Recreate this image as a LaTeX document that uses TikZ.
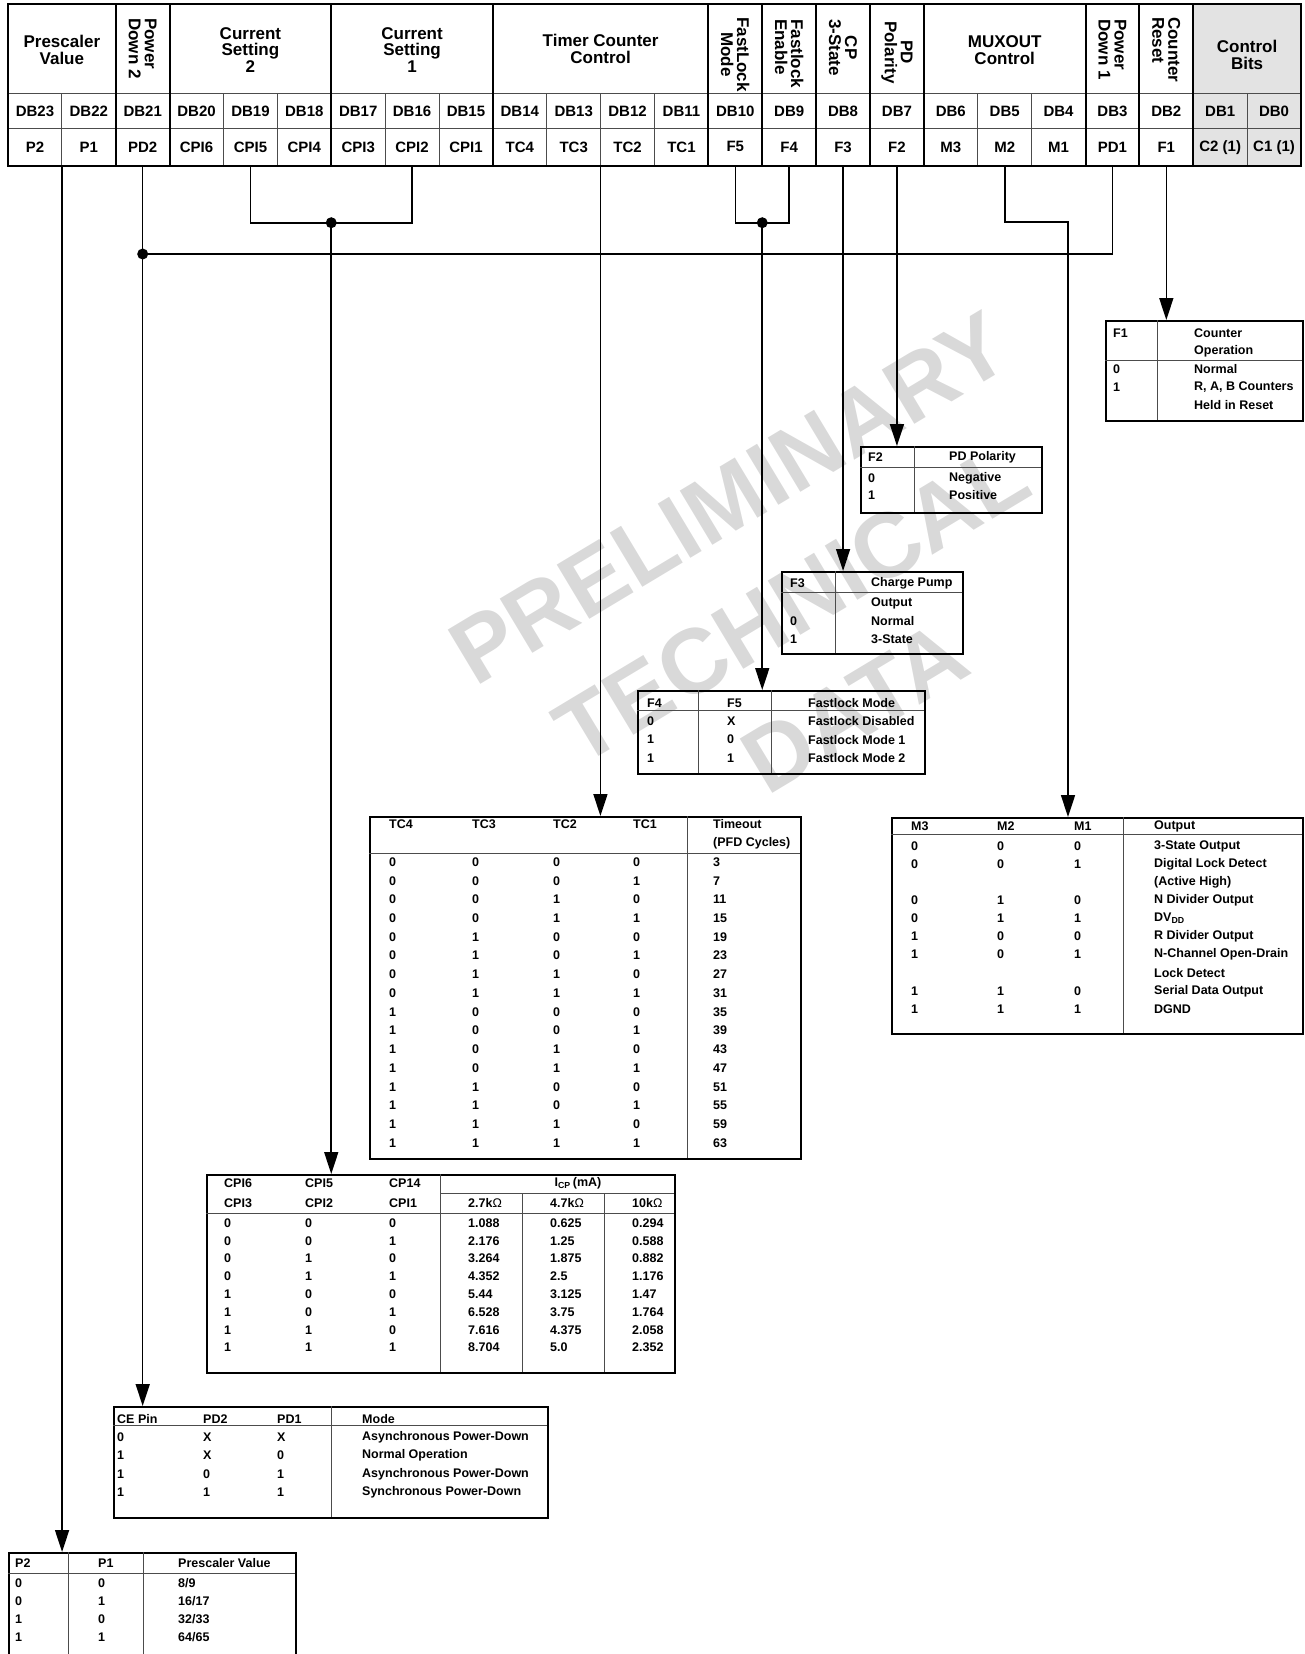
\documentclass[tikz,border=0pt]{standalone}
\usepackage{fontspec}
\setmainfont{Liberation Sans}
\usetikzlibrary{arrows.meta,calc}

\definecolor{wmgray}{gray}{0.85}
\definecolor{ctrlgray}{gray}{0.89}

\begin{document}
\begin{tikzpicture}[x=1pt,y=-1pt,
    regframe/.style={line width=2.6pt},
    groupline/.style={line width=2pt},
    cellline/.style={line width=1pt, black!70},
    tabframe/.style={draw, line width=2.2pt, inner sep=0pt, anchor=north west},
    tabline/.style={line width=0.9pt, black!70},
    tabtext/.style={anchor=west, inner sep=0pt, font=\fontsize{12.5}{14}\bfseries},
    bitcell/.style={minimum width=\cw pt, minimum height=37pt, inner sep=0pt, font=\fontsize{15}{15}\bfseries},
    hdr/.style={align=center, inner sep=0pt, font=\fontsize{17}{16.5}\bfseries},
    vhdr/.style={rotate=-90, anchor=west, align=left, inner sep=0pt, font=\fontsize{17}{16}\bfseries},
    wire/.style={line width=1.6pt},
    feed/.style={wire, -{Triangle[length=22pt,width=14pt]}},
    joint/.style={circle, fill, inner sep=0pt, minimum size=11pt}
]

% Column width and left edge of the register
\def\cw{53.875}
\def\xl{8}

\useasboundingbox (0,0) rectangle (1304,1654);

% --- Watermark ---
\node[rotate=31, text=wmgray, align=center, inner sep=0pt,
      font=\fontsize{92}{122}\bfseries] (wmark) at (792,603)
      {PRELIMINARY\\TECHNICAL\\DATA};

% --- Register map ---
\fill[ctrlgray] ({\xl+22*\cw},4) rectangle ({\xl+24*\cw},166);
\draw[cellline] (\xl,93) -- ({\xl+24*\cw},93);
\draw[cellline] (\xl,128) -- ({\xl+24*\cw},128);
\foreach \k in {1,...,23}
    \draw[cellline] ({\xl+\k*\cw},93) -- ({\xl+\k*\cw},166);
\foreach \k in {2,3,6,9,13,14,15,16,17,20,21,22}
    \draw[groupline] ({\xl+\k*\cw},4) -- ({\xl+\k*\cw},166);
\draw[regframe] (\xl,4) rectangle ({\xl+24*\cw},166);

% Group headers
\node[hdr] (hpre) at ({\xl+1*\cw},50) {Prescaler\\Value};
\node[vhdr] (hpd2) at ({\xl+2.5*\cw},18) {Power\\Down 2};
\node[hdr] (hcs2) at ({\xl+4.5*\cw},50) {Current\\Setting\\2};
\node[hdr] (hcs1) at ({\xl+7.5*\cw},50) {Current\\Setting\\1};
\node[hdr] (htc) at ({\xl+11*\cw},49) {Timer Counter\\Control};
\node[vhdr, align=center] (hflm) at ({\xl+13.5*\cw},17) {FastLock\\Mode};
\node[vhdr] (hfle) at ({\xl+14.5*\cw},19) {Fastlock\\Enable};
\node[vhdr, align=center] (hcp) at ({\xl+15.5*\cw},19) {CP\\3-State};
\node[vhdr, align=center] (hpol) at ({\xl+16.5*\cw},21) {PD\\Polarity};
\node[hdr] (hmux) at ({\xl+18.5*\cw},50) {MUXOUT\\Control};
\node[vhdr] (hpd1) at ({\xl+20.5*\cw},19) {Power\\Down 1};
\node[vhdr] (hcr) at ({\xl+21.5*\cw},17) {Counter\\Reset};
\node[hdr] (hcb) at ({\xl+23*\cw},55) {Control\\Bits};

% DB row
\foreach \k in {0,...,23}{
    \pgfmathtruncatemacro\n{23-\k}
    \node[bitcell] (db\n) at ({\xl+(\k+0.5)*\cw},111.5) {DB\n};
}
% Bit name row
\foreach \t [count=\k from 0] in {P2,P1,PD2,CPI6,CPI5,CPI4,CPI3,CPI2,CPI1,TC4,TC3,TC2,TC1,
        \raisebox{3pt}{F5},F4,F3,F2,M3,M2,\raisebox{-2pt}{M1},PD1,F1,C2 (1),C1 (1)}{
    \pgfmathtruncatemacro\n{23-\k}
    \node[bitcell] (bit\n) at ({\xl+(\k+0.5)*\cw},147.5) {\t};
}

% --- F1 table ---
\node[tabframe, minimum width=197pt, minimum height=100pt] (f1tab) at (1105,320) {};
\draw[tabline] (1157,320) -- (1157,420);
\draw[tabline] (1105,360) -- (1302,360);
\node[tabtext] (f1h1) at (1113,333) {F1};
\node[tabtext] (f1h2) at (1194,333) {Counter};
\node[tabtext] (f1h3) at (1194,351) {Operation};
\node[tabtext] (f1a1) at (1113,369) {0};
\node[tabtext] (f1b1) at (1194,369) {Normal};
\node[tabtext] (f1a2) at (1113,387) {1};
\node[tabtext] (f1b2) at (1194,387) {R, A, B Counters};
\node[tabtext] (f1b3) at (1194,405) {Held in Reset};

% --- F2 table ---
\node[tabframe, minimum width=181pt, minimum height=66pt] (f2tab) at (860,446) {};
\draw[tabline] (914,446) -- (914,512);
\draw[tabline] (860,467) -- (1041,467);
\node[tabtext] (f2h1) at (868,457) {F2};
\node[tabtext] (f2h2) at (949,457) {PD Polarity};
\node[tabtext] (f2a1) at (868,478) {0};
\node[tabtext] (f2b1) at (949,478) {Negative};
\node[tabtext] (f2a2) at (868,495) {1};
\node[tabtext] (f2b2) at (949,495) {Positive};

% --- F3 table ---
\node[tabframe, minimum width=181pt, minimum height=82pt] (f3tab) at (781,571) {};
\draw[tabline] (835,571) -- (835,653);
\draw[tabline] (781,592) -- (962,592);
\node[tabtext] (f3h1) at (790,583) {F3};
\node[tabtext] (f3h2) at (871,583) {Charge Pump};
\node[tabtext] (f3h3) at (871,603) {Output};
\node[tabtext] (f3a1) at (790,621) {0};
\node[tabtext] (f3b1) at (871,621) {Normal};
\node[tabtext] (f3a2) at (790,639) {1};
\node[tabtext] (f3b2) at (871,639) {3-State};

% --- Fastlock table ---
\node[tabframe, minimum width=287pt, minimum height=83pt] (fltab) at (637,690) {};
\draw[tabline] (698,690) -- (698,773);
\draw[tabline] (771,690) -- (771,773);
\draw[tabline] (637,710) -- (924,710);
\foreach \a/\b/\c [count=\r from 0] in {F4/F5/Fastlock Mode, 0/X/Fastlock Disabled,
        1/0/Fastlock Mode 1, 1/1/Fastlock Mode 2}{
    \node[tabtext] (fl\r a) at (647,{703+18.3*\r}) {\a};
    \node[tabtext] (fl\r b) at (727,{703+18.3*\r}) {\b};
    \node[tabtext] (fl\r c) at (808,{703+18.3*\r}) {\c};
}

% --- Timer counter table ---
\node[tabframe, minimum width=431pt, minimum height=342pt] (tctab) at (369,816) {};
\draw[tabline] (687,816) -- (687,1158);
\draw[tabline] (369,853) -- (800,853);
\node[tabtext] (tch1) at (389,824) {TC4};
\node[tabtext] (tch2) at (472,824) {TC3};
\node[tabtext] (tch3) at (553,824) {TC2};
\node[tabtext] (tch4) at (633,824) {TC1};
\node[tabtext] (tch5) at (713,824) {Timeout};
\node[tabtext] (tch6) at (713,843) {(PFD Cycles)};
\foreach \a/\b/\c/\d/\t [count=\r from 0] in {0/0/0/0/3, 0/0/0/1/7, 0/0/1/0/11, 0/0/1/1/15,
        0/1/0/0/19, 0/1/0/1/23, 0/1/1/0/27, 0/1/1/1/31, 1/0/0/0/35, 1/0/0/1/39,
        1/0/1/0/43, 1/0/1/1/47, 1/1/0/0/51, 1/1/0/1/55, 1/1/1/0/59, 1/1/1/1/63}{
    \node[tabtext] (tc\r a) at (389,{862+18.73*\r}) {\a};
    \node[tabtext] (tc\r b) at (472,{862+18.73*\r}) {\b};
    \node[tabtext] (tc\r c) at (553,{862+18.73*\r}) {\c};
    \node[tabtext] (tc\r d) at (633,{862+18.73*\r}) {\d};
    \node[tabtext] (tc\r t) at (713,{862+18.73*\r}) {\t};
}

% --- MUXOUT table ---
\node[tabframe, minimum width=411pt, minimum height=216pt] (mtab) at (891,817) {};
\draw[tabline] (1123,817) -- (1123,1033);
\draw[tabline] (891,834) -- (1302,834);
\node[tabtext] (mh1) at (911,826) {M3};
\node[tabtext] (mh2) at (997,826) {M2};
\node[tabtext] (mh3) at (1074,826) {M1};
\node[tabtext] (mh4) at (1154,826) {Output};
\foreach \a/\b/\c/\t [count=\r from 0] in {0/0/0/3-State Output, 0/0/1/Digital Lock Detect,
        ///(Active High), 0/1/0/N Divider Output, 0/1/1/DV\textsubscript{DD},
        1/0/0/R Divider Output, 1/0/1/N-Channel Open-Drain, ///Lock Detect,
        1/1/0/Serial Data Output, 1/1/1/DGND}{
    \node[tabtext] (m\r a) at (911,{846+18.1*\r}) {\a};
    \node[tabtext] (m\r b) at (997,{846+18.1*\r}) {\b};
    \node[tabtext] (m\r c) at (1074,{846+18.1*\r}) {\c};
    \node[tabtext] (m\r t) at (1154,{846+18.1*\r}) {\t};
}

% --- Charge pump current table ---
\node[tabframe, minimum width=468pt, minimum height=198pt] (cptab) at (206,1174) {};
\draw[tabline] (440,1174) -- (440,1372);
\draw[tabline] (522,1193) -- (522,1372);
\draw[tabline] (604,1193) -- (604,1372);
\draw[tabline] (440,1193) -- (674,1193);
\draw[tabline] (206,1213) -- (674,1213);
\node[tabtext] (cph1) at (224,1183) {CPI6};
\node[tabtext] (cph2) at (305,1183) {CPI5};
\node[tabtext] (cph3) at (389,1183) {CP14};
\node[tabtext, anchor=center] (cph4) at (578,1183) {I\textsubscript{CP}\,(mA)};
\node[tabtext] (cph5) at (224,1203) {CPI3};
\node[tabtext] (cph6) at (305,1203) {CPI2};
\node[tabtext] (cph7) at (389,1203) {CPI1};
\node[tabtext] (cph8) at (468,1203) {2.7k{\mdseries Ω}};
\node[tabtext] (cph9) at (550,1203) {4.7k{\mdseries Ω}};
\node[tabtext] (cph10) at (632,1203) {10k{\mdseries Ω}};
\foreach \a/\b/\c/\u/\v/\w [count=\r from 0] in {0/0/0/1.088/0.625/0.294, 0/0/1/2.176/1.25/0.588,
        0/1/0/3.264/1.875/0.882, 0/1/1/4.352/2.5/1.176, 1/0/0/5.44/3.125/1.47,
        1/0/1/6.528/3.75/1.764, 1/1/0/7.616/4.375/2.058, 1/1/1/8.704/5.0/2.352}{
    \node[tabtext] (cp\r a) at (224,{1223+17.8*\r}) {\a};
    \node[tabtext] (cp\r b) at (305,{1223+17.8*\r}) {\b};
    \node[tabtext] (cp\r c) at (389,{1223+17.8*\r}) {\c};
    \node[tabtext] (cp\r u) at (468,{1223+17.8*\r}) {\u};
    \node[tabtext] (cp\r v) at (550,{1223+17.8*\r}) {\v};
    \node[tabtext] (cp\r w) at (632,{1223+17.8*\r}) {\w};
}

% --- Power down table ---
\node[tabframe, minimum width=434pt, minimum height=111pt] (pdtab) at (113,1406) {};
\draw[tabline] (331,1406) -- (331,1517);
\draw[tabline] (113,1425) -- (547,1425);
\foreach \a/\b/\c/\t [count=\r from 0] in {CE Pin/PD2/PD1/Mode, 0/X/X/Asynchronous Power-Down,
        1/X/0/Normal Operation, 1/0/1/Asynchronous Power-Down, 1/1/1/Synchronous Power-Down}{
    \node[tabtext] (pd\r a) at (117,{1419+18.3*\r}) {\a};
    \node[tabtext] (pd\r b) at (203,{1419+18.3*\r}) {\b};
    \node[tabtext] (pd\r c) at (277,{1419+18.3*\r}) {\c};
    \node[tabtext] (pd\r t) at (362,{1419+18.3*\r}) {\t};
}

% --- Prescaler table (runs off the page) ---
\node[tabframe, minimum width=287pt, minimum height=130pt] (ptab) at (8,1552) {};
\draw[tabline] (68,1552) -- (68,1682);
\draw[tabline] (143,1552) -- (143,1682);
\draw[tabline] (8,1573) -- (295,1573);
\node[tabtext] (ph1) at (15,1563) {P2};
\node[tabtext] (ph2) at (98,1563) {P1};
\node[tabtext] (ph3) at (178,1563) {Prescaler Value};
\node[tabtext] (pa1) at (15,1583) {0};
\node[tabtext] (pb1) at (98,1583) {0};
\node[tabtext] (pc1) at (178,1583) {8/9};
\node[tabtext] (pa2) at (15,1601) {0};
\node[tabtext] (pb2) at (98,1601) {1};
\node[tabtext] (pc2) at (178,1601) {16/17};
\node[tabtext] (pa3) at (15,1619) {1};
\node[tabtext] (pb3) at (98,1619) {0};
\node[tabtext] (pc3) at (178,1619) {32/33};
\node[tabtext] (pa4) at (15,1637) {1};
\node[tabtext] (pb4) at (98,1637) {1};
\node[tabtext] (pc4) at (178,1637) {64/65};

% --- Connectors ---
\coordinate (pdjoin) at (bit21.south |- {0,254});
\coordinate (cpjoin) at ($(bit19.south)!0.5!(bit16.south)+(0,56.5)$);
\coordinate (fljoin) at ($(bit10.south)!0.5!(bit9.south)+(0,56.5)$);
\coordinate (mxbend) at (1068,222);

\draw[feed] (bit23.south east) -- (bit23.south east |- ptab.north);
\draw[feed] (bit21.south) -- (bit21.south |- pdtab.north);
\draw[wire] (bit3.south) |- (pdjoin);
\draw[wire] (bit19.south) |- (cpjoin) -| (bit16.south);
\draw[feed] (cpjoin) -- (cpjoin |- cptab.north);
\draw[feed] (bit12.south west) -- (bit12.south west |- tctab.north);
\draw[wire] (bit10.south) |- (fljoin) -| (bit9.south);
\draw[feed] (fljoin) -- (fljoin |- fltab.north);
\draw[feed] (bit8.south) -- (bit8.south |- f3tab.north);
\draw[feed] (bit7.south) -- (bit7.south |- f2tab.north);
\draw[feed] (bit5.south) |- (mxbend) -- (mxbend |- mtab.north);
\draw[feed] (bit2.south) -- (bit2.south |- f1tab.north);

\node[joint] (pddot) at (pdjoin) {};
\node[joint] (cpdot) at (cpjoin) {};
\node[joint] (fldot) at (fljoin) {};

\end{tikzpicture}
\end{document}
